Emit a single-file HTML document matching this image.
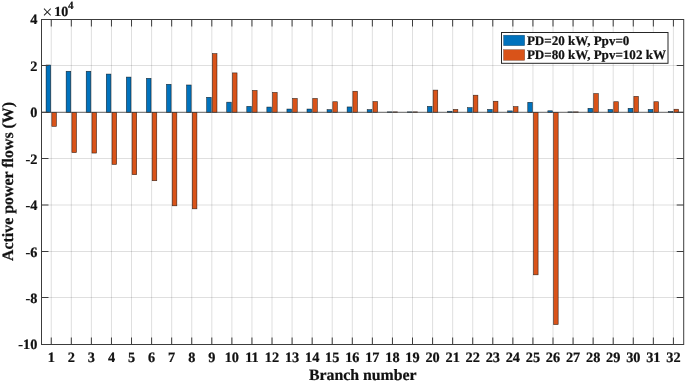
<!DOCTYPE html>
<html><head><meta charset="utf-8"><title>Active power flows</title>
<style>html,body{margin:0;padding:0;background:#fff}body{width:685px;height:382px;overflow:hidden}svg{display:block}text{font-family:"Liberation Serif",serif;font-weight:bold;fill:#111;stroke:#111;stroke-width:0.22px;text-rendering:geometricPrecision}</style></head><body>
<svg width="685" height="382" viewBox="0 0 685 382">
<rect width="685" height="382" fill="#fff"/>
<line x1="51.25" y1="19.5" x2="51.25" y2="344.5" stroke="#262626" stroke-opacity="0.17" stroke-width="0.9"/>
<line x1="71.32" y1="19.5" x2="71.32" y2="344.5" stroke="#262626" stroke-opacity="0.17" stroke-width="0.9"/>
<line x1="91.39" y1="19.5" x2="91.39" y2="344.5" stroke="#262626" stroke-opacity="0.17" stroke-width="0.9"/>
<line x1="111.46" y1="19.5" x2="111.46" y2="344.5" stroke="#262626" stroke-opacity="0.17" stroke-width="0.9"/>
<line x1="131.53" y1="19.5" x2="131.53" y2="344.5" stroke="#262626" stroke-opacity="0.17" stroke-width="0.9"/>
<line x1="151.60" y1="19.5" x2="151.60" y2="344.5" stroke="#262626" stroke-opacity="0.17" stroke-width="0.9"/>
<line x1="171.67" y1="19.5" x2="171.67" y2="344.5" stroke="#262626" stroke-opacity="0.17" stroke-width="0.9"/>
<line x1="191.74" y1="19.5" x2="191.74" y2="344.5" stroke="#262626" stroke-opacity="0.17" stroke-width="0.9"/>
<line x1="211.81" y1="19.5" x2="211.81" y2="344.5" stroke="#262626" stroke-opacity="0.17" stroke-width="0.9"/>
<line x1="231.88" y1="19.5" x2="231.88" y2="344.5" stroke="#262626" stroke-opacity="0.17" stroke-width="0.9"/>
<line x1="251.95" y1="19.5" x2="251.95" y2="344.5" stroke="#262626" stroke-opacity="0.17" stroke-width="0.9"/>
<line x1="272.02" y1="19.5" x2="272.02" y2="344.5" stroke="#262626" stroke-opacity="0.17" stroke-width="0.9"/>
<line x1="292.09" y1="19.5" x2="292.09" y2="344.5" stroke="#262626" stroke-opacity="0.17" stroke-width="0.9"/>
<line x1="312.16" y1="19.5" x2="312.16" y2="344.5" stroke="#262626" stroke-opacity="0.17" stroke-width="0.9"/>
<line x1="332.23" y1="19.5" x2="332.23" y2="344.5" stroke="#262626" stroke-opacity="0.17" stroke-width="0.9"/>
<line x1="352.30" y1="19.5" x2="352.30" y2="344.5" stroke="#262626" stroke-opacity="0.17" stroke-width="0.9"/>
<line x1="372.37" y1="19.5" x2="372.37" y2="344.5" stroke="#262626" stroke-opacity="0.17" stroke-width="0.9"/>
<line x1="392.44" y1="19.5" x2="392.44" y2="344.5" stroke="#262626" stroke-opacity="0.17" stroke-width="0.9"/>
<line x1="412.51" y1="19.5" x2="412.51" y2="344.5" stroke="#262626" stroke-opacity="0.17" stroke-width="0.9"/>
<line x1="432.58" y1="19.5" x2="432.58" y2="344.5" stroke="#262626" stroke-opacity="0.17" stroke-width="0.9"/>
<line x1="452.65" y1="19.5" x2="452.65" y2="344.5" stroke="#262626" stroke-opacity="0.17" stroke-width="0.9"/>
<line x1="472.72" y1="19.5" x2="472.72" y2="344.5" stroke="#262626" stroke-opacity="0.17" stroke-width="0.9"/>
<line x1="492.79" y1="19.5" x2="492.79" y2="344.5" stroke="#262626" stroke-opacity="0.17" stroke-width="0.9"/>
<line x1="512.86" y1="19.5" x2="512.86" y2="344.5" stroke="#262626" stroke-opacity="0.17" stroke-width="0.9"/>
<line x1="532.93" y1="19.5" x2="532.93" y2="344.5" stroke="#262626" stroke-opacity="0.17" stroke-width="0.9"/>
<line x1="553.00" y1="19.5" x2="553.00" y2="344.5" stroke="#262626" stroke-opacity="0.17" stroke-width="0.9"/>
<line x1="573.07" y1="19.5" x2="573.07" y2="344.5" stroke="#262626" stroke-opacity="0.17" stroke-width="0.9"/>
<line x1="593.14" y1="19.5" x2="593.14" y2="344.5" stroke="#262626" stroke-opacity="0.17" stroke-width="0.9"/>
<line x1="613.21" y1="19.5" x2="613.21" y2="344.5" stroke="#262626" stroke-opacity="0.17" stroke-width="0.9"/>
<line x1="633.28" y1="19.5" x2="633.28" y2="344.5" stroke="#262626" stroke-opacity="0.17" stroke-width="0.9"/>
<line x1="653.35" y1="19.5" x2="653.35" y2="344.5" stroke="#262626" stroke-opacity="0.17" stroke-width="0.9"/>
<line x1="673.42" y1="19.5" x2="673.42" y2="344.5" stroke="#262626" stroke-opacity="0.17" stroke-width="0.9"/>
<line x1="41.5" y1="19.50" x2="683.7" y2="19.50" stroke="#262626" stroke-opacity="0.17" stroke-width="0.9"/>
<line x1="41.5" y1="65.50" x2="683.7" y2="65.50" stroke="#262626" stroke-opacity="0.17" stroke-width="0.9"/>
<line x1="41.5" y1="112.30" x2="683.7" y2="112.30" stroke="#262626" stroke-opacity="0.17" stroke-width="0.9"/>
<line x1="41.5" y1="158.50" x2="683.7" y2="158.50" stroke="#262626" stroke-opacity="0.17" stroke-width="0.9"/>
<line x1="41.5" y1="205.00" x2="683.7" y2="205.00" stroke="#262626" stroke-opacity="0.17" stroke-width="0.9"/>
<line x1="41.5" y1="251.50" x2="683.7" y2="251.50" stroke="#262626" stroke-opacity="0.17" stroke-width="0.9"/>
<line x1="41.5" y1="297.50" x2="683.7" y2="297.50" stroke="#262626" stroke-opacity="0.17" stroke-width="0.9"/>
<line x1="41.5" y1="344.50" x2="683.7" y2="344.50" stroke="#262626" stroke-opacity="0.17" stroke-width="0.9"/>
<rect x="46.08" y="65.00" width="4.60" height="47.30" fill="#0072bd" stroke="#000" stroke-width="0.6" stroke-opacity="0.75"/>
<rect x="51.82" y="112.30" width="4.60" height="14.05" fill="#d95319" stroke="#000" stroke-width="0.6" stroke-opacity="0.75"/>
<rect x="66.15" y="71.28" width="4.60" height="41.02" fill="#0072bd" stroke="#000" stroke-width="0.6" stroke-opacity="0.75"/>
<rect x="71.89" y="112.30" width="4.60" height="40.30" fill="#d95319" stroke="#000" stroke-width="0.6" stroke-opacity="0.75"/>
<rect x="86.22" y="71.28" width="4.60" height="41.02" fill="#0072bd" stroke="#000" stroke-width="0.6" stroke-opacity="0.75"/>
<rect x="91.96" y="112.30" width="4.60" height="40.77" fill="#d95319" stroke="#000" stroke-width="0.6" stroke-opacity="0.75"/>
<rect x="106.29" y="74.07" width="4.60" height="38.23" fill="#0072bd" stroke="#000" stroke-width="0.6" stroke-opacity="0.75"/>
<rect x="112.03" y="112.30" width="4.60" height="52.15" fill="#d95319" stroke="#000" stroke-width="0.6" stroke-opacity="0.75"/>
<rect x="126.36" y="77.09" width="4.60" height="35.21" fill="#0072bd" stroke="#000" stroke-width="0.6" stroke-opacity="0.75"/>
<rect x="132.10" y="112.30" width="4.60" height="62.38" fill="#d95319" stroke="#000" stroke-width="0.6" stroke-opacity="0.75"/>
<rect x="146.43" y="78.34" width="4.60" height="33.96" fill="#0072bd" stroke="#000" stroke-width="0.6" stroke-opacity="0.75"/>
<rect x="152.17" y="112.30" width="4.60" height="68.42" fill="#d95319" stroke="#000" stroke-width="0.6" stroke-opacity="0.75"/>
<rect x="166.50" y="84.29" width="4.60" height="28.01" fill="#0072bd" stroke="#000" stroke-width="0.6" stroke-opacity="0.75"/>
<rect x="172.24" y="112.30" width="4.60" height="93.51" fill="#d95319" stroke="#000" stroke-width="0.6" stroke-opacity="0.75"/>
<rect x="186.57" y="84.99" width="4.60" height="27.31" fill="#0072bd" stroke="#000" stroke-width="0.6" stroke-opacity="0.75"/>
<rect x="192.31" y="112.30" width="4.60" height="96.53" fill="#d95319" stroke="#000" stroke-width="0.6" stroke-opacity="0.75"/>
<rect x="206.64" y="97.30" width="4.60" height="15.00" fill="#0072bd" stroke="#000" stroke-width="0.6" stroke-opacity="0.75"/>
<rect x="212.38" y="53.62" width="4.60" height="58.68" fill="#d95319" stroke="#000" stroke-width="0.6" stroke-opacity="0.75"/>
<rect x="226.71" y="102.18" width="4.60" height="10.12" fill="#0072bd" stroke="#000" stroke-width="0.6" stroke-opacity="0.75"/>
<rect x="232.45" y="72.90" width="4.60" height="39.40" fill="#d95319" stroke="#000" stroke-width="0.6" stroke-opacity="0.75"/>
<rect x="246.78" y="106.36" width="4.60" height="5.94" fill="#0072bd" stroke="#000" stroke-width="0.6" stroke-opacity="0.75"/>
<rect x="252.52" y="90.45" width="4.60" height="21.85" fill="#d95319" stroke="#000" stroke-width="0.6" stroke-opacity="0.75"/>
<rect x="266.85" y="107.06" width="4.60" height="5.24" fill="#0072bd" stroke="#000" stroke-width="0.6" stroke-opacity="0.75"/>
<rect x="272.59" y="92.42" width="4.60" height="19.88" fill="#d95319" stroke="#000" stroke-width="0.6" stroke-opacity="0.75"/>
<rect x="286.92" y="109.04" width="4.60" height="3.26" fill="#0072bd" stroke="#000" stroke-width="0.6" stroke-opacity="0.75"/>
<rect x="292.66" y="98.46" width="4.60" height="13.84" fill="#d95319" stroke="#000" stroke-width="0.6" stroke-opacity="0.75"/>
<rect x="306.99" y="109.04" width="4.60" height="3.26" fill="#0072bd" stroke="#000" stroke-width="0.6" stroke-opacity="0.75"/>
<rect x="312.73" y="98.46" width="4.60" height="13.84" fill="#d95319" stroke="#000" stroke-width="0.6" stroke-opacity="0.75"/>
<rect x="327.06" y="109.62" width="4.60" height="2.68" fill="#0072bd" stroke="#000" stroke-width="0.6" stroke-opacity="0.75"/>
<rect x="332.80" y="101.72" width="4.60" height="10.58" fill="#d95319" stroke="#000" stroke-width="0.6" stroke-opacity="0.75"/>
<rect x="347.13" y="106.94" width="4.60" height="5.36" fill="#0072bd" stroke="#000" stroke-width="0.6" stroke-opacity="0.75"/>
<rect x="352.87" y="91.26" width="4.60" height="21.04" fill="#d95319" stroke="#000" stroke-width="0.6" stroke-opacity="0.75"/>
<rect x="367.20" y="109.62" width="4.60" height="2.68" fill="#0072bd" stroke="#000" stroke-width="0.6" stroke-opacity="0.75"/>
<rect x="372.94" y="101.55" width="4.60" height="10.75" fill="#d95319" stroke="#000" stroke-width="0.6" stroke-opacity="0.75"/>
<rect x="387.27" y="111.85" width="4.60" height="0.45" fill="#0072bd" stroke="#000" stroke-width="0.6" stroke-opacity="0.75"/>
<rect x="393.01" y="111.85" width="4.60" height="0.45" fill="#d95319" stroke="#000" stroke-width="0.6" stroke-opacity="0.75"/>
<rect x="407.34" y="111.85" width="4.60" height="0.45" fill="#0072bd" stroke="#000" stroke-width="0.6" stroke-opacity="0.75"/>
<rect x="413.08" y="111.85" width="4.60" height="0.45" fill="#d95319" stroke="#000" stroke-width="0.6" stroke-opacity="0.75"/>
<rect x="427.41" y="106.36" width="4.60" height="5.94" fill="#0072bd" stroke="#000" stroke-width="0.6" stroke-opacity="0.75"/>
<rect x="433.15" y="90.10" width="4.60" height="22.20" fill="#d95319" stroke="#000" stroke-width="0.6" stroke-opacity="0.75"/>
<rect x="447.48" y="111.24" width="4.60" height="1.06" fill="#0072bd" stroke="#000" stroke-width="0.6" stroke-opacity="0.75"/>
<rect x="453.22" y="109.45" width="4.60" height="2.85" fill="#d95319" stroke="#000" stroke-width="0.6" stroke-opacity="0.75"/>
<rect x="467.55" y="107.64" width="4.60" height="4.66" fill="#0072bd" stroke="#000" stroke-width="0.6" stroke-opacity="0.75"/>
<rect x="473.29" y="95.21" width="4.60" height="17.09" fill="#d95319" stroke="#000" stroke-width="0.6" stroke-opacity="0.75"/>
<rect x="487.62" y="109.45" width="4.60" height="2.85" fill="#0072bd" stroke="#000" stroke-width="0.6" stroke-opacity="0.75"/>
<rect x="493.36" y="101.25" width="4.60" height="11.05" fill="#d95319" stroke="#000" stroke-width="0.6" stroke-opacity="0.75"/>
<rect x="507.69" y="110.89" width="4.60" height="1.41" fill="#0072bd" stroke="#000" stroke-width="0.6" stroke-opacity="0.75"/>
<rect x="513.43" y="106.60" width="4.60" height="5.70" fill="#d95319" stroke="#000" stroke-width="0.6" stroke-opacity="0.75"/>
<rect x="527.76" y="102.30" width="4.60" height="10.00" fill="#0072bd" stroke="#000" stroke-width="0.6" stroke-opacity="0.75"/>
<rect x="533.50" y="112.30" width="4.60" height="162.52" fill="#d95319" stroke="#000" stroke-width="0.6" stroke-opacity="0.75"/>
<rect x="547.83" y="110.78" width="4.60" height="1.52" fill="#0072bd" stroke="#000" stroke-width="0.6" stroke-opacity="0.75"/>
<rect x="553.57" y="112.30" width="4.60" height="212.25" fill="#d95319" stroke="#000" stroke-width="0.6" stroke-opacity="0.75"/>
<rect x="567.90" y="111.85" width="4.60" height="0.45" fill="#0072bd" stroke="#000" stroke-width="0.6" stroke-opacity="0.75"/>
<rect x="573.64" y="111.85" width="4.60" height="0.45" fill="#d95319" stroke="#000" stroke-width="0.6" stroke-opacity="0.75"/>
<rect x="587.97" y="108.34" width="4.60" height="3.96" fill="#0072bd" stroke="#000" stroke-width="0.6" stroke-opacity="0.75"/>
<rect x="593.71" y="93.58" width="4.60" height="18.72" fill="#d95319" stroke="#000" stroke-width="0.6" stroke-opacity="0.75"/>
<rect x="608.04" y="109.45" width="4.60" height="2.85" fill="#0072bd" stroke="#000" stroke-width="0.6" stroke-opacity="0.75"/>
<rect x="613.78" y="101.72" width="4.60" height="10.58" fill="#d95319" stroke="#000" stroke-width="0.6" stroke-opacity="0.75"/>
<rect x="628.11" y="108.34" width="4.60" height="3.96" fill="#0072bd" stroke="#000" stroke-width="0.6" stroke-opacity="0.75"/>
<rect x="633.85" y="96.37" width="4.60" height="15.93" fill="#d95319" stroke="#000" stroke-width="0.6" stroke-opacity="0.75"/>
<rect x="648.18" y="109.45" width="4.60" height="2.85" fill="#0072bd" stroke="#000" stroke-width="0.6" stroke-opacity="0.75"/>
<rect x="653.92" y="101.72" width="4.60" height="10.58" fill="#d95319" stroke="#000" stroke-width="0.6" stroke-opacity="0.75"/>
<rect x="668.25" y="111.48" width="4.60" height="0.82" fill="#0072bd" stroke="#000" stroke-width="0.6" stroke-opacity="0.75"/>
<rect x="673.99" y="109.24" width="4.60" height="3.06" fill="#d95319" stroke="#000" stroke-width="0.6" stroke-opacity="0.75"/>
<line x1="41.5" y1="112.30" x2="683.7" y2="112.30" stroke="#3c3c3c" stroke-width="0.75"/>
<line x1="51.25" y1="344.5" x2="51.25" y2="337.5" stroke="#3c3c3c" stroke-width="1"/>
<line x1="51.25" y1="19.5" x2="51.25" y2="26.5" stroke="#3c3c3c" stroke-width="1"/>
<line x1="71.32" y1="344.5" x2="71.32" y2="337.5" stroke="#3c3c3c" stroke-width="1"/>
<line x1="71.32" y1="19.5" x2="71.32" y2="26.5" stroke="#3c3c3c" stroke-width="1"/>
<line x1="91.39" y1="344.5" x2="91.39" y2="337.5" stroke="#3c3c3c" stroke-width="1"/>
<line x1="91.39" y1="19.5" x2="91.39" y2="26.5" stroke="#3c3c3c" stroke-width="1"/>
<line x1="111.46" y1="344.5" x2="111.46" y2="337.5" stroke="#3c3c3c" stroke-width="1"/>
<line x1="111.46" y1="19.5" x2="111.46" y2="26.5" stroke="#3c3c3c" stroke-width="1"/>
<line x1="131.53" y1="344.5" x2="131.53" y2="337.5" stroke="#3c3c3c" stroke-width="1"/>
<line x1="131.53" y1="19.5" x2="131.53" y2="26.5" stroke="#3c3c3c" stroke-width="1"/>
<line x1="151.60" y1="344.5" x2="151.60" y2="337.5" stroke="#3c3c3c" stroke-width="1"/>
<line x1="151.60" y1="19.5" x2="151.60" y2="26.5" stroke="#3c3c3c" stroke-width="1"/>
<line x1="171.67" y1="344.5" x2="171.67" y2="337.5" stroke="#3c3c3c" stroke-width="1"/>
<line x1="171.67" y1="19.5" x2="171.67" y2="26.5" stroke="#3c3c3c" stroke-width="1"/>
<line x1="191.74" y1="344.5" x2="191.74" y2="337.5" stroke="#3c3c3c" stroke-width="1"/>
<line x1="191.74" y1="19.5" x2="191.74" y2="26.5" stroke="#3c3c3c" stroke-width="1"/>
<line x1="211.81" y1="344.5" x2="211.81" y2="337.5" stroke="#3c3c3c" stroke-width="1"/>
<line x1="211.81" y1="19.5" x2="211.81" y2="26.5" stroke="#3c3c3c" stroke-width="1"/>
<line x1="231.88" y1="344.5" x2="231.88" y2="337.5" stroke="#3c3c3c" stroke-width="1"/>
<line x1="231.88" y1="19.5" x2="231.88" y2="26.5" stroke="#3c3c3c" stroke-width="1"/>
<line x1="251.95" y1="344.5" x2="251.95" y2="337.5" stroke="#3c3c3c" stroke-width="1"/>
<line x1="251.95" y1="19.5" x2="251.95" y2="26.5" stroke="#3c3c3c" stroke-width="1"/>
<line x1="272.02" y1="344.5" x2="272.02" y2="337.5" stroke="#3c3c3c" stroke-width="1"/>
<line x1="272.02" y1="19.5" x2="272.02" y2="26.5" stroke="#3c3c3c" stroke-width="1"/>
<line x1="292.09" y1="344.5" x2="292.09" y2="337.5" stroke="#3c3c3c" stroke-width="1"/>
<line x1="292.09" y1="19.5" x2="292.09" y2="26.5" stroke="#3c3c3c" stroke-width="1"/>
<line x1="312.16" y1="344.5" x2="312.16" y2="337.5" stroke="#3c3c3c" stroke-width="1"/>
<line x1="312.16" y1="19.5" x2="312.16" y2="26.5" stroke="#3c3c3c" stroke-width="1"/>
<line x1="332.23" y1="344.5" x2="332.23" y2="337.5" stroke="#3c3c3c" stroke-width="1"/>
<line x1="332.23" y1="19.5" x2="332.23" y2="26.5" stroke="#3c3c3c" stroke-width="1"/>
<line x1="352.30" y1="344.5" x2="352.30" y2="337.5" stroke="#3c3c3c" stroke-width="1"/>
<line x1="352.30" y1="19.5" x2="352.30" y2="26.5" stroke="#3c3c3c" stroke-width="1"/>
<line x1="372.37" y1="344.5" x2="372.37" y2="337.5" stroke="#3c3c3c" stroke-width="1"/>
<line x1="372.37" y1="19.5" x2="372.37" y2="26.5" stroke="#3c3c3c" stroke-width="1"/>
<line x1="392.44" y1="344.5" x2="392.44" y2="337.5" stroke="#3c3c3c" stroke-width="1"/>
<line x1="392.44" y1="19.5" x2="392.44" y2="26.5" stroke="#3c3c3c" stroke-width="1"/>
<line x1="412.51" y1="344.5" x2="412.51" y2="337.5" stroke="#3c3c3c" stroke-width="1"/>
<line x1="412.51" y1="19.5" x2="412.51" y2="26.5" stroke="#3c3c3c" stroke-width="1"/>
<line x1="432.58" y1="344.5" x2="432.58" y2="337.5" stroke="#3c3c3c" stroke-width="1"/>
<line x1="432.58" y1="19.5" x2="432.58" y2="26.5" stroke="#3c3c3c" stroke-width="1"/>
<line x1="452.65" y1="344.5" x2="452.65" y2="337.5" stroke="#3c3c3c" stroke-width="1"/>
<line x1="452.65" y1="19.5" x2="452.65" y2="26.5" stroke="#3c3c3c" stroke-width="1"/>
<line x1="472.72" y1="344.5" x2="472.72" y2="337.5" stroke="#3c3c3c" stroke-width="1"/>
<line x1="472.72" y1="19.5" x2="472.72" y2="26.5" stroke="#3c3c3c" stroke-width="1"/>
<line x1="492.79" y1="344.5" x2="492.79" y2="337.5" stroke="#3c3c3c" stroke-width="1"/>
<line x1="492.79" y1="19.5" x2="492.79" y2="26.5" stroke="#3c3c3c" stroke-width="1"/>
<line x1="512.86" y1="344.5" x2="512.86" y2="337.5" stroke="#3c3c3c" stroke-width="1"/>
<line x1="512.86" y1="19.5" x2="512.86" y2="26.5" stroke="#3c3c3c" stroke-width="1"/>
<line x1="532.93" y1="344.5" x2="532.93" y2="337.5" stroke="#3c3c3c" stroke-width="1"/>
<line x1="532.93" y1="19.5" x2="532.93" y2="26.5" stroke="#3c3c3c" stroke-width="1"/>
<line x1="553.00" y1="344.5" x2="553.00" y2="337.5" stroke="#3c3c3c" stroke-width="1"/>
<line x1="553.00" y1="19.5" x2="553.00" y2="26.5" stroke="#3c3c3c" stroke-width="1"/>
<line x1="573.07" y1="344.5" x2="573.07" y2="337.5" stroke="#3c3c3c" stroke-width="1"/>
<line x1="573.07" y1="19.5" x2="573.07" y2="26.5" stroke="#3c3c3c" stroke-width="1"/>
<line x1="593.14" y1="344.5" x2="593.14" y2="337.5" stroke="#3c3c3c" stroke-width="1"/>
<line x1="593.14" y1="19.5" x2="593.14" y2="26.5" stroke="#3c3c3c" stroke-width="1"/>
<line x1="613.21" y1="344.5" x2="613.21" y2="337.5" stroke="#3c3c3c" stroke-width="1"/>
<line x1="613.21" y1="19.5" x2="613.21" y2="26.5" stroke="#3c3c3c" stroke-width="1"/>
<line x1="633.28" y1="344.5" x2="633.28" y2="337.5" stroke="#3c3c3c" stroke-width="1"/>
<line x1="633.28" y1="19.5" x2="633.28" y2="26.5" stroke="#3c3c3c" stroke-width="1"/>
<line x1="653.35" y1="344.5" x2="653.35" y2="337.5" stroke="#3c3c3c" stroke-width="1"/>
<line x1="653.35" y1="19.5" x2="653.35" y2="26.5" stroke="#3c3c3c" stroke-width="1"/>
<line x1="673.42" y1="344.5" x2="673.42" y2="337.5" stroke="#3c3c3c" stroke-width="1"/>
<line x1="673.42" y1="19.5" x2="673.42" y2="26.5" stroke="#3c3c3c" stroke-width="1"/>
<line x1="41.5" y1="19.50" x2="48.5" y2="19.50" stroke="#3c3c3c" stroke-width="1"/>
<line x1="683.7" y1="19.50" x2="676.7" y2="19.50" stroke="#3c3c3c" stroke-width="1"/>
<line x1="41.5" y1="65.50" x2="48.5" y2="65.50" stroke="#3c3c3c" stroke-width="1"/>
<line x1="683.7" y1="65.50" x2="676.7" y2="65.50" stroke="#3c3c3c" stroke-width="1"/>
<line x1="41.5" y1="112.30" x2="48.5" y2="112.30" stroke="#3c3c3c" stroke-width="1"/>
<line x1="683.7" y1="112.30" x2="676.7" y2="112.30" stroke="#3c3c3c" stroke-width="1"/>
<line x1="41.5" y1="158.50" x2="48.5" y2="158.50" stroke="#3c3c3c" stroke-width="1"/>
<line x1="683.7" y1="158.50" x2="676.7" y2="158.50" stroke="#3c3c3c" stroke-width="1"/>
<line x1="41.5" y1="205.00" x2="48.5" y2="205.00" stroke="#3c3c3c" stroke-width="1"/>
<line x1="683.7" y1="205.00" x2="676.7" y2="205.00" stroke="#3c3c3c" stroke-width="1"/>
<line x1="41.5" y1="251.50" x2="48.5" y2="251.50" stroke="#3c3c3c" stroke-width="1"/>
<line x1="683.7" y1="251.50" x2="676.7" y2="251.50" stroke="#3c3c3c" stroke-width="1"/>
<line x1="41.5" y1="297.50" x2="48.5" y2="297.50" stroke="#3c3c3c" stroke-width="1"/>
<line x1="683.7" y1="297.50" x2="676.7" y2="297.50" stroke="#3c3c3c" stroke-width="1"/>
<line x1="41.5" y1="344.50" x2="48.5" y2="344.50" stroke="#3c3c3c" stroke-width="1"/>
<line x1="683.7" y1="344.50" x2="676.7" y2="344.50" stroke="#3c3c3c" stroke-width="1"/>
<rect x="41.5" y="19.5" width="642.2" height="325.0" fill="none" stroke="#3c3c3c" stroke-width="1"/>
<text x="51.25" y="362" font-size="14.3" text-anchor="middle">1</text>
<text x="71.32" y="362" font-size="14.3" text-anchor="middle">2</text>
<text x="91.39" y="362" font-size="14.3" text-anchor="middle">3</text>
<text x="111.46" y="362" font-size="14.3" text-anchor="middle">4</text>
<text x="131.53" y="362" font-size="14.3" text-anchor="middle">5</text>
<text x="151.60" y="362" font-size="14.3" text-anchor="middle">6</text>
<text x="171.67" y="362" font-size="14.3" text-anchor="middle">7</text>
<text x="191.74" y="362" font-size="14.3" text-anchor="middle">8</text>
<text x="211.81" y="362" font-size="14.3" text-anchor="middle">9</text>
<text x="231.88" y="362" font-size="14.3" text-anchor="middle">10</text>
<text x="251.95" y="362" font-size="14.3" text-anchor="middle">11</text>
<text x="272.02" y="362" font-size="14.3" text-anchor="middle">12</text>
<text x="292.09" y="362" font-size="14.3" text-anchor="middle">13</text>
<text x="312.16" y="362" font-size="14.3" text-anchor="middle">14</text>
<text x="332.23" y="362" font-size="14.3" text-anchor="middle">15</text>
<text x="352.30" y="362" font-size="14.3" text-anchor="middle">16</text>
<text x="372.37" y="362" font-size="14.3" text-anchor="middle">17</text>
<text x="392.44" y="362" font-size="14.3" text-anchor="middle">18</text>
<text x="412.51" y="362" font-size="14.3" text-anchor="middle">19</text>
<text x="432.58" y="362" font-size="14.3" text-anchor="middle">20</text>
<text x="452.65" y="362" font-size="14.3" text-anchor="middle">21</text>
<text x="472.72" y="362" font-size="14.3" text-anchor="middle">22</text>
<text x="492.79" y="362" font-size="14.3" text-anchor="middle">23</text>
<text x="512.86" y="362" font-size="14.3" text-anchor="middle">24</text>
<text x="532.93" y="362" font-size="14.3" text-anchor="middle">25</text>
<text x="553.00" y="362" font-size="14.3" text-anchor="middle">26</text>
<text x="573.07" y="362" font-size="14.3" text-anchor="middle">27</text>
<text x="593.14" y="362" font-size="14.3" text-anchor="middle">28</text>
<text x="613.21" y="362" font-size="14.3" text-anchor="middle">29</text>
<text x="633.28" y="362" font-size="14.3" text-anchor="middle">30</text>
<text x="653.35" y="362" font-size="14.3" text-anchor="middle">31</text>
<text x="673.42" y="362" font-size="14.3" text-anchor="middle">32</text>
<text x="37.3" y="24.15" font-size="14.3" text-anchor="end">4</text>
<text x="37.3" y="70.62" font-size="14.3" text-anchor="end">2</text>
<text x="37.3" y="117.09" font-size="14.3" text-anchor="end">0</text>
<text x="37.3" y="163.56" font-size="14.3" text-anchor="end">-2</text>
<text x="37.3" y="210.03" font-size="14.3" text-anchor="end">-4</text>
<text x="37.3" y="256.50" font-size="14.3" text-anchor="end">-6</text>
<text x="37.3" y="302.97" font-size="14.3" text-anchor="end">-8</text>
<text x="37.3" y="349.44" font-size="14.3" text-anchor="end">-10</text>
<text x="42.3" y="17.8" font-size="18" style="font-weight:normal;stroke:none">×</text>
<text x="54.2" y="16.1" font-size="14">10<tspan dy="-6.9" dx="-0.2" font-size="11">4</tspan></text>
<text x="362.8" y="380" font-size="15.8" text-anchor="middle">Branch number</text>
<text transform="translate(13.2,181.5) rotate(-90)" font-size="15.9" text-anchor="middle">Active power flows (W)</text>
<rect x="501.5" y="32.5" width="166.5" height="30.8" fill="#fff" stroke="#262626" stroke-width="1"/>
<rect x="503.5" y="35.2" width="21.2" height="10.5" fill="#0072bd" stroke="#000" stroke-opacity="0.45" stroke-width="0.5"/>
<rect x="503.5" y="49.6" width="21.2" height="10.8" fill="#d95319" stroke="#000" stroke-opacity="0.45" stroke-width="0.5"/>
<text x="526.9" y="44.8" font-size="13.05">PD=20 kW, Ppv=0</text>
<text x="526.9" y="59.2" font-size="13.05">PD=80 kW, Ppv=102 kW</text>
</svg></body></html>
